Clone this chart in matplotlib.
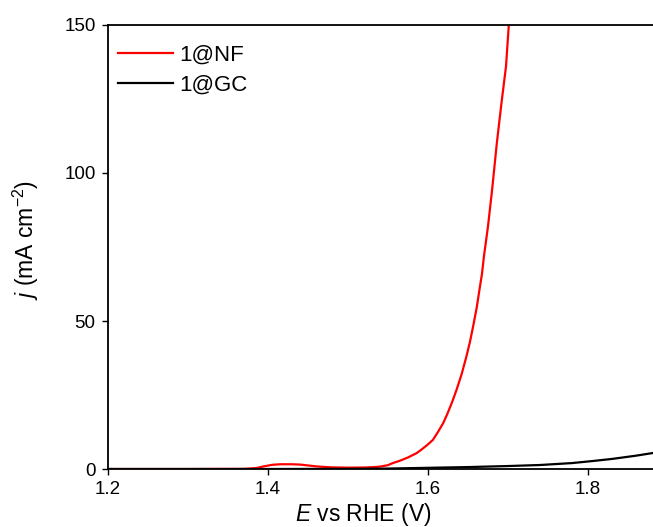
import numpy as np
import matplotlib
matplotlib.use("Agg")
import matplotlib.pyplot as plt

# values
E_nf = [1.20, 1.30, 1.37, 1.385, 1.395, 1.405, 1.415, 1.43, 1.44, 1.45, 1.46,
        1.47, 1.48, 1.50, 1.52, 1.53, 1.54, 1.55, 1.556, 1.565, 1.575, 1.586,
        1.592, 1.599, 1.606, 1.612, 1.619, 1.624, 1.630, 1.636, 1.642, 1.648,
        1.6525, 1.657, 1.661, 1.664, 1.6675, 1.670, 1.675, 1.680, 1.686,
        1.692, 1.6975, 1.701]
j_nf = [0.0, 0.0, 0.05, 0.3, 0.9, 1.4, 1.6, 1.6, 1.5, 1.2, 0.9,
        0.7, 0.55, 0.45, 0.5, 0.6, 0.8, 1.3, 2.0, 2.8, 3.9, 5.4,
        6.6, 8.1, 9.8, 12.3, 15.5, 18.5, 22.5, 27.0, 32.0, 38.0,
        43.0, 49.0, 54.7, 60.0, 66.0, 72.0, 82.0, 94.0, 110.0,
        124.0, 136.0, 150.0]

E_gc = [1.20, 1.40, 1.50, 1.55, 1.60, 1.65, 1.70, 1.74, 1.78, 1.806, 1.83,
        1.86, 1.881, 1.90]
j_gc = [0.0, 0.0, 0.05, 0.15, 0.4, 0.65, 1.0, 1.35, 2.0, 2.7, 3.4,
        4.5, 5.4, 6.2]

series = [("1@NF", E_nf, j_nf, "#ff0000"), ("1@GC", E_gc, j_gc, "#000000")]

xticks = [1.2, 1.4, 1.6, 1.8]
yticks = [0, 50, 100, 150]

plt.rcParams["font.family"] = ["Liberation Sans", "DejaVu Sans"]
plt.rcParams["mathtext.fontset"] = "custom"
plt.rcParams["mathtext.rm"] = "Liberation Sans"
plt.rcParams["mathtext.it"] = "Liberation Sans:italic"

fig = plt.figure(figsize=(6.53, 5.27), dpi=100)
# right spine sits past the figure edge, as in the cropped reference
ax = fig.add_axes([108 / 653, 58 / 527, 560 / 653, 444 / 527])

for label, x, y, color in series:
    ax.plot(x, y, color=color, linewidth=1.6, label=label)

ax.set_xlim(1.2, 1.9)
ax.set_ylim(0, 150)
ax.set_xticks(xticks)
ax.set_yticks(yticks)
ax.tick_params(direction="out", length=4, width=1, labelsize=13.5, pad=5)
for sp in ax.spines.values():
    sp.set_linewidth(1.3)

ax.set_xlabel("$E$ vs RHE (V)", fontsize=16.5)
ax.xaxis.set_label_coords(0.455, -0.072, transform=ax.transAxes)
ax.xaxis.label.set_verticalalignment("top")
ax.set_ylabel("$j$ (mA cm$^{-2}$)", fontsize=16.5)
ax.yaxis.set_label_coords(-0.12, 0.515)

ax.legend(loc="upper left", bbox_to_anchor=(0.018, 0.956), frameon=False,
          fontsize=16, handlelength=2.45, handletextpad=0.3,
          labelspacing=0.4, borderpad=0, borderaxespad=0)

fig.savefig("out.png", dpi=100)
